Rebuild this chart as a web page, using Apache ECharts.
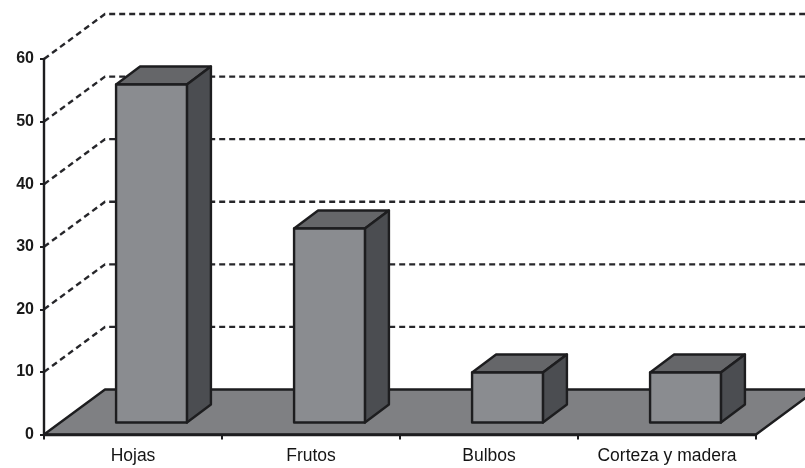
<!DOCTYPE html>
<html><head><meta charset="utf-8">
<style>html,body{margin:0;padding:0;background:#fff}#c{width:805px;height:468px}</style>
<script src="https://cdn.jsdelivr.net/npm/echarts@6/dist/echarts.min.js"></script>
</head><body><div id="c"></div>
<script>
const categories = ['Hojas', 'Frutos', 'Bulbos', 'Corteza y madera'];
const values = [54, 31, 8, 8];
const wallTicks = [10, 20, 30, 40, 50, 60];
const DX = 61, DY = 45;           // full depth of the 3D box
const C = { front:'#8a8c90', side:'#4b4d51', top:'#656669', floor:'#7f8083', line:'#1d1d1f', dash:'#26262a' };
const chart = echarts.init(document.getElementById('c'));
const edge = { stroke: C.line, lineWidth: 2.4, lineJoin: 'round' };

function renderFloor(params) {
  const s = params.coordSys, x0 = s.x, x1 = s.x + s.width, y = s.y + s.height;
  return { type:'polygon', shape:{ points:[[x0,y],[x0+DX,y-DY],[x1+DX,y-DY],[x1,y]] },
           style:{ fill:C.floor, ...edge } };
}
function renderWall(params, api) {
  const s = params.coordSys, y = api.coord([0, api.value(1)])[1], x0 = s.x;
  return { type:'polyline', shape:{ points:[[x0,y],[x0+DX,y-DY],[s.x+s.width+DX,y-DY]] },
           style:{ fill:null, stroke:C.dash, lineWidth:2.4, lineDash:[6,4] } };
}
function renderBar(params, api) {
  const i = api.value(0), v = api.value(1);
  const cw = api.size([1,0])[0];
  const base = api.coord([i, 0]), topP = api.coord([i, v]);
  const w = cw * 0.398, lift = 12, shift = 18.5, dx = 24, dy = 18;
  const xl = base[0] + shift - w/2, xr = xl + w, yb = base[1] - lift, yt = topP[1] - lift;
  return { type:'group', children:[
    { type:'polygon', shape:{ points:[[xl,yt],[xl+dx,yt-dy],[xr+dx,yt-dy],[xr,yt]] }, style:{ fill:C.top, ...edge } },
    { type:'polygon', shape:{ points:[[xr,yt],[xr+dx,yt-dy],[xr+dx,yb-dy],[xr,yb]] }, style:{ fill:C.side, ...edge } },
    { type:'rect', shape:{ x:xl, y:yt, width:w, height:yb-yt }, style:{ fill:C.front, ...edge } }
  ]};
}
chart.setOption({
  animation:false,
  backgroundColor:'#fff',
  grid:{ left:44, top:59, width:712, height:375.5, containLabel:false },
  xAxis:{ type:'category', data:categories, z:10,
    axisLine:{ lineStyle:{ color:C.line, width:2.4 } },
    axisTick:{ show:true, length:5, lineStyle:{ color:C.line, width:2 } },
    axisLabel:{ color:'#141414', fontFamily:'Liberation Sans', fontSize:17.5, margin:13, interval:0 },
    splitLine:{ show:false } },
  yAxis:{ type:'value', min:0, max:60, interval:10, z:10,
    axisLine:{ show:true, lineStyle:{ color:C.line, width:2.4 } },
    axisTick:{ show:true, length:4, lineStyle:{ color:C.line, width:2 } },
    axisLabel:{ color:'#1a1a1a', fontFamily:'Liberation Sans', fontWeight:'bold', fontSize:16, margin:10 },
    splitLine:{ show:false } },
  series:[
    { type:'custom', z:2, silent:true, renderItem:renderFloor, encode:{x:0,y:1}, data:[[0,0]] },
    { type:'custom', z:3, silent:true, renderItem:renderWall, encode:{x:0,y:1}, data:wallTicks.map(t=>[0,t]) },
    { type:'custom', z:4, silent:true, renderItem:renderBar, encode:{x:0,y:1}, data:values.map((v,i)=>[i,v]) }
  ]
});
</script></body></html>
